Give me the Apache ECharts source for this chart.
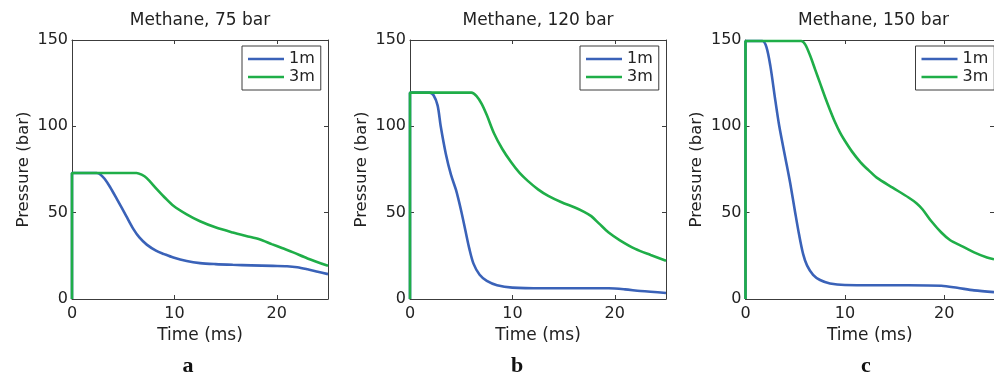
<!DOCTYPE html>
<html>
<head>
<meta charset="utf-8">
<script src="https://cdn.jsdelivr.net/npm/echarts@6/dist/echarts.min.js"></script>
<style>
  html, body { margin: 0; padding: 0; background: #fff; }
  #chart { width: 994px; height: 378px; }
</style>
</head>
<body>
<div id="chart"></div>
<script>
// panel titles and letters
const titles = ["Methane, 75 bar", "Methane, 120 bar", "Methane, 150 bar"];
const letters = ["a", "b", "c"];
const seriesNames = ["1m", "3m"];

// time (ms) / pressure (bar)
const tA1 = [0, 0, 0.2, 2.4, 2.8, 3.2, 3.7, 4.4, 5.3, 6.0, 6.6, 7.3, 8.2, 9.0, 9.9, 11.2, 12.5, 14, 15.7, 17.5, 19.6, 21, 22, 23, 24, 25];
const pA1 = [0, 73, 73, 73, 72, 69.5, 65, 57.7, 48, 40.5, 35.5, 31.5, 28, 26, 24, 22, 20.8, 20.2, 19.8, 19.5, 19.2, 19, 18.4, 17.2, 15.8, 14.4];
const tA3 = [0, 0, 0.2, 6.3, 6.8, 7.3, 8.3, 9.1, 9.9, 11.2, 12.5, 14, 15.7, 17, 18.3, 19.5, 20.5, 21.6, 23, 25];
const pA3 = [0, 73, 73, 73, 72, 70, 63.5, 58.5, 54, 49, 45, 41.5, 38.5, 36.5, 34.6, 31.8, 29.5, 27, 23.5, 19.2];

const tB1 = [0, 0, 0.2, 1.9, 2.3, 2.7, 3.0, 3.5, 4.0, 4.5, 5.0, 5.4, 5.8, 6.2, 6.8, 7.5, 8.5, 10, 13, 16, 19.4, 21, 22.5, 25];
const pB1 = [0, 119.5, 119.5, 119.5, 118, 112, 100, 84, 72, 63, 51, 40, 29, 20.5, 14, 10.5, 8, 6.6, 6.2, 6.2, 6.2, 5.6, 4.6, 3.5];
const tB3 = [0, 0, 0.2, 6.0, 6.5, 7.0, 7.5, 8.2, 9.0, 9.9, 10.7, 11.5, 12.5, 13.5, 14.8, 16.1, 17, 17.7, 18.5, 19.4, 20.5, 22, 23.5, 25];
const pB3 = [0, 119.5, 119.5, 119.5, 117.5, 113, 106.5, 96, 87, 79, 73, 68.4, 63.5, 59.7, 56, 53, 50.5, 48, 43.5, 38.5, 34, 29, 25.5, 22.2];

const tC1 = [0, 0, 0.2, 1.7, 2.1, 2.5, 3.0, 3.4, 4.0, 4.5, 5.0, 5.4, 5.8, 6.2, 6.8, 7.5, 8.5, 10, 13, 16.4, 19.7, 21.3, 23, 25];
const pC1 = [0, 149.4, 149.4, 149.4, 146, 135, 115, 100, 82, 67, 50, 37, 26, 19.3, 14, 11, 9, 8.1, 8, 8, 7.7, 6.5, 5, 4];
const tC3 = [0, 0, 0.2, 5.6, 6.0, 6.5, 7.0, 7.5, 8.0, 8.5, 9.0, 9.5, 9.9, 10.7, 11.6, 12.4, 13.2, 14.8, 16.4, 17.2, 17.8, 18.7, 19.7, 20.6, 21.7, 23, 24.3, 25];
const pC3 = [0, 149.4, 149.4, 149.4, 147.5, 141, 133, 125, 117, 109.5, 102.5, 96.5, 92.5, 85.5, 79, 74.5, 70.3, 64.5, 58.8, 55.5, 52, 45, 38.5, 34, 30.8, 27, 24, 23];

const panels = [
  [[tA1, pA1], [tA3, pA3]],
  [[tB1, pB1], [tB3, pB3]],
  [[tC1, pC1], [tC3, pC3]],
];

const colors = ["#3a62b8", "#1fae48"];
const font = "DejaVu Sans";
const ink = "#222";
const axisColor = "#3c3c3c";

// layout of each panel in px
const gridLefts = [72, 410, 745.5];
const letterX = [188, 517, 866];
const gridTop = 40;
const gridW = 256;
const gridH = 259;

const pair = (t, p) => t.map((v, i) => [v, p[i]]);

const chart = echarts.init(document.getElementById("chart"), null, { renderer: "canvas" });

const grid = [], xAxis = [], yAxis = [], series = [], legend = [], graphic = [];

gridLefts.forEach((left, k) => {
  grid.push({ left: left, top: gridTop, width: gridW, height: gridH });

  const tick = { show: true, inside: true, length: 4, lineStyle: { color: axisColor } };
  const line = { show: true, onZero: false, lineStyle: { color: axisColor, width: 1 } };

  xAxis.push({
    gridIndex: k, type: "value", position: "bottom", min: 0, max: 25, interval: 10,
    axisLine: line, axisTick: tick, splitLine: { show: false },
    axisLabel: { fontFamily: font, fontSize: 16, color: ink, margin: 7, showMaxLabel: false },
    name: "Time (ms)", nameLocation: "middle", nameGap: 23,
    nameTextStyle: { fontFamily: font, fontSize: 17, color: ink },
  });
  xAxis.push({
    gridIndex: k, type: "value", position: "top", min: 0, max: 25, interval: 10,
    axisLine: line, axisTick: tick, splitLine: { show: false }, axisLabel: { show: false },
  });
  yAxis.push({
    gridIndex: k, type: "value", position: "left", min: 0, max: 150, interval: 50,
    axisLine: line, axisTick: tick, splitLine: { show: false },
    axisLabel: { fontFamily: font, fontSize: 16, color: ink, margin: 4 },
    name: "Pressure (bar)", nameLocation: "middle", nameGap: 40, nameRotate: 90,
    nameTextStyle: { fontFamily: font, fontSize: 16.5, color: ink },
  });
  yAxis.push({
    gridIndex: k, type: "value", position: "right", min: 0, max: 150, interval: 50,
    axisLine: line, axisTick: tick, splitLine: { show: false }, axisLabel: { show: false },
  });

  panels[k].forEach(([t, p], s) => {
    series.push({
      name: seriesNames[s], type: "line",
      xAxisIndex: 2 * k, yAxisIndex: 2 * k,
      data: pair(t, p),
      showSymbol: false, smooth: 0.3,
      color: colors[s],
      lineStyle: { color: colors[s], width: 2.6 },
      clip: true, z: 2 + s,
    });
  });

  legend.push({
    data: seriesNames, orient: "vertical",
    left: left + gridW - 86, top: 46,
    icon: "rect", itemWidth: 36, itemHeight: 2.6, itemGap: 2,
    padding: [5, 6, 5, 6],
    backgroundColor: "#fff", borderColor: axisColor, borderWidth: 1, borderRadius: 0,
    selectedMode: false,
    textStyle: { fontFamily: font, fontSize: 16, color: ink, padding: [0, 0, 0, 0] },
  });

  graphic.push({
    type: "text", x: left + gridW / 2, y: 21,
    style: { text: titles[k], font: "17px '" + font + "'", fill: ink, align: "center", verticalAlign: "middle" },
  });
  graphic.push({
    type: "text", x: letterX[k], y: 366,
    style: { text: letters[k], font: "bold 22px 'Liberation Serif'", fill: "#111", align: "center", verticalAlign: "middle" },
  });
});

chart.setOption({
  animation: false,
  backgroundColor: "#fff",
  grid, xAxis, yAxis, series, legend, graphic,
});
</script>
</body>
</html>
